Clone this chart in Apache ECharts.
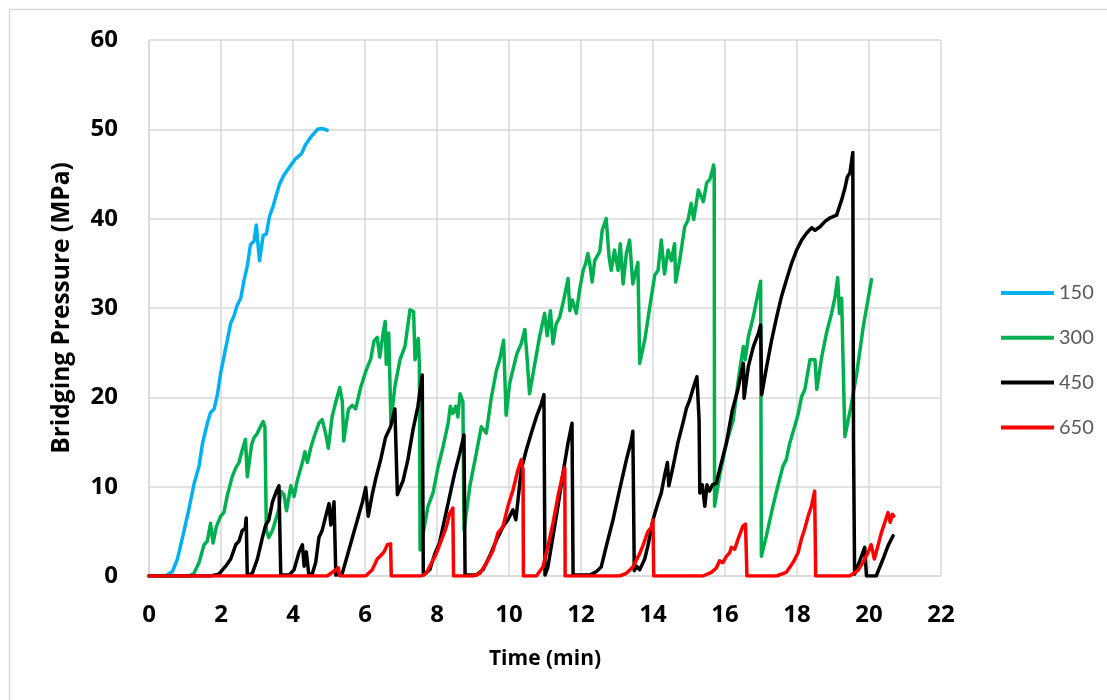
<!DOCTYPE html>
<html>
<head>
<meta charset="utf-8">
<script src="https://cdn.jsdelivr.net/npm/echarts@6/dist/echarts.min.js"></script>
<style>
  html, body { margin: 0; padding: 0; background: #fff; }
  #chart { width: 1107px; height: 700px; }
</style>
</head>
<body>
<div id="chart"></div>
<script>
// Bridging pressure vs. time for four test cases (legend 150 / 300 / 450 / 650)
const seriesNames = ['150', '300', '450', '650'];
const seriesColors = ['#00B0F0', '#00B050', '#000000', '#FF0000'];

const time150 = [0, 0.46, 0.65, 0.79, 0.93, 1.11, 1.25, 1.39, 1.48, 1.62, 1.71, 1.81, 1.90, 1.99, 2.13, 2.27, 2.36, 2.45, 2.55, 2.64, 2.73, 2.82, 2.92, 2.98, 3.07, 3.17, 3.26, 3.35, 3.44, 3.54, 3.63, 3.75, 3.89, 4.07, 4.24, 4.35, 4.49, 4.68, 4.81, 4.95];
const press150 = [0, 0, 0.5, 1.9, 4.3, 7.5, 10.3, 12.3, 14.7, 17.1, 18.3, 18.7, 20.3, 22.7, 25.5, 28.3, 29.1, 30.3, 31.1, 33.1, 34.7, 37.1, 37.5, 39.3, 35.3, 38.1, 38.3, 40.3, 41.3, 42.7, 43.9, 44.9, 45.7, 46.7, 47.3, 48.3, 49.1, 50.0, 50.1, 49.9];

const time300 = [0, 1.11, 1.25, 1.39, 1.53, 1.62, 1.71, 1.78, 1.87, 1.99, 2.08, 2.18, 2.31, 2.41, 2.50, 2.59, 2.68, 2.73, 2.85, 2.92, 3.00, 3.07, 3.17, 3.22, 3.26, 3.33, 3.43, 3.52, 3.61, 3.66, 3.75, 3.82, 3.94, 4.03, 4.12, 4.26, 4.33, 4.40, 4.49, 4.58, 4.72, 4.81, 4.91, 4.98, 5.09, 5.19, 5.30, 5.37, 5.41, 5.54, 5.65, 5.74, 5.88, 6.02, 6.16, 6.25, 6.34, 6.41, 6.50, 6.56, 6.59, 6.66, 6.72, 6.83, 6.97, 7.11, 7.25, 7.35, 7.39, 7.48, 7.51, 7.53, 7.75, 7.89, 8.03, 8.17, 8.31, 8.37, 8.44, 8.52, 8.58, 8.64, 8.72, 8.75, 8.91, 9.09, 9.23, 9.37, 9.51, 9.65, 9.74, 9.85, 9.92, 10.02, 10.11, 10.22, 10.34, 10.44, 10.50, 10.57, 10.71, 10.85, 10.99, 11.06, 11.15, 11.22, 11.31, 11.41, 11.52, 11.64, 11.69, 11.76, 11.87, 11.96, 12.06, 12.13, 12.19, 12.24, 12.31, 12.38, 12.52, 12.59, 12.70, 12.78, 12.84, 12.93, 13.03, 13.09, 13.17, 13.26, 13.35, 13.44, 13.58, 13.63, 13.77, 13.91, 14.05, 14.14, 14.23, 14.32, 14.42, 14.51, 14.60, 14.63, 14.74, 14.88, 14.97, 15.06, 15.13, 15.26, 15.40, 15.49, 15.58, 15.63, 15.68, 15.70, 15.71, 15.85, 16.04, 16.23, 16.37, 16.51, 16.56, 16.65, 16.79, 16.88, 16.99, 17.01, 17.15, 17.33, 17.47, 17.61, 17.70, 17.80, 17.94, 18.03, 18.13, 18.22, 18.36, 18.50, 18.55, 18.69, 18.82, 18.96, 19.06, 19.13, 19.18, 19.24, 19.29, 19.33, 19.50, 19.66, 19.84, 20.07];
const press300 = [0, 0, 0.3, 1.5, 3.5, 3.9, 5.9, 3.7, 5.5, 6.7, 7.1, 9.1, 11.1, 12.1, 12.7, 14.1, 15.3, 11.1, 14.7, 15.5, 15.9, 16.5, 17.3, 16.7, 5.1, 4.3, 5.1, 6.3, 7.5, 9.5, 9.1, 7.3, 10.1, 8.9, 10.7, 12.7, 13.9, 12.7, 14.3, 15.5, 17.1, 17.5, 15.9, 14.3, 17.9, 19.5, 21.1, 19.5, 15.1, 18.7, 19.1, 18.7, 21.1, 22.9, 24.3, 26.3, 26.7, 24.5, 27.1, 28.5, 23.7, 27.2, 17.2, 21.2, 24.2, 25.7, 29.8, 29.6, 24.2, 26.6, 23.8, 2.9, 7.8, 9.3, 12.2, 14.5, 17.1, 19.0, 18.2, 19.0, 17.8, 20.4, 19.5, 5.1, 10.0, 13.7, 16.7, 16.0, 20.0, 23.0, 24.2, 26.4, 18.0, 21.6, 23.1, 24.9, 26.0, 27.6, 24.5, 20.4, 23.6, 26.8, 29.4, 26.9, 29.7, 26.0, 28.2, 29.0, 30.9, 33.3, 29.7, 30.9, 29.4, 32.0, 34.2, 35.0, 36.1, 35.1, 32.9, 35.3, 36.3, 38.7, 40.0, 35.7, 34.2, 36.5, 34.2, 37.2, 32.7, 36.1, 37.6, 32.7, 35.1, 23.8, 26.4, 30.1, 33.7, 34.2, 37.6, 33.8, 36.5, 35.3, 37.2, 32.9, 35.3, 39.1, 39.8, 41.7, 39.9, 43.2, 41.9, 44.0, 44.4, 45.1, 46.0, 45.6, 7.8, 11.2, 14.9, 17.5, 22.0, 25.7, 24.2, 26.8, 29.1, 30.9, 33.0, 2.2, 4.5, 7.8, 10.1, 12.3, 13.0, 14.9, 16.8, 18.1, 20.1, 20.9, 24.2, 24.2, 20.9, 24.6, 27.2, 29.4, 31.3, 33.4, 29.4, 31.1, 22.3, 15.6, 19.0, 22.7, 27.9, 33.2];

const time450 = [0, 1.71, 1.94, 2.13, 2.27, 2.41, 2.50, 2.59, 2.67, 2.70, 2.73, 2.87, 3.01, 3.15, 3.24, 3.33, 3.43, 3.54, 3.61, 3.66, 3.89, 4.03, 4.17, 4.26, 4.31, 4.37, 4.44, 4.54, 4.63, 4.72, 4.81, 4.91, 5.00, 5.05, 5.14, 5.19, 5.37, 5.51, 5.65, 5.79, 5.93, 6.02, 6.09, 6.20, 6.31, 6.44, 6.57, 6.71, 6.83, 6.90, 7.06, 7.19, 7.33, 7.47, 7.59, 7.62, 7.80, 7.94, 8.07, 8.21, 8.35, 8.49, 8.63, 8.75, 8.78, 9.09, 9.28, 9.46, 9.65, 9.83, 9.97, 10.11, 10.19, 10.25, 10.34, 10.48, 10.62, 10.76, 10.90, 10.97, 11.00, 11.08, 11.22, 11.36, 11.50, 11.64, 11.75, 11.78, 12.24, 12.43, 12.56, 12.70, 12.89, 13.07, 13.26, 13.40, 13.44, 13.48, 13.54, 13.63, 13.77, 13.86, 14.00, 14.14, 14.23, 14.32, 14.40, 14.44, 14.56, 14.69, 14.83, 14.93, 15.02, 15.13, 15.22, 15.28, 15.30, 15.37, 15.44, 15.50, 15.57, 15.65, 15.76, 15.85, 16.04, 16.20, 16.36, 16.45, 16.51, 16.53, 16.65, 16.79, 16.93, 16.99, 17.02, 17.16, 17.30, 17.44, 17.57, 17.71, 17.85, 17.99, 18.13, 18.27, 18.41, 18.50, 18.64, 18.78, 18.92, 19.10, 19.24, 19.33, 19.40, 19.47, 19.55, 19.57, 19.60, 19.65, 19.79, 19.88, 19.93, 20.20, 20.39, 20.53, 20.67];
const press450 = [0, 0, 0.2, 1.1, 1.9, 3.5, 3.9, 5.1, 5.3, 6.5, 0.1, 0.3, 1.9, 4.3, 5.7, 6.3, 8.3, 9.5, 10.1, 0.1, 0.1, 0.7, 2.7, 3.5, 1.1, 2.7, 0.1, 0.3, 1.5, 4.3, 5.1, 6.7, 8.1, 5.7, 8.3, 0.1, 0.3, 2.3, 4.3, 6.3, 8.3, 9.9, 6.7, 9.1, 11.1, 13.1, 15.5, 16.7, 18.7, 9.1, 10.7, 13.0, 16.3, 19.0, 22.5, 0.1, 0.7, 2.5, 3.7, 6.3, 8.9, 11.5, 13.7, 15.8, 0.1, 0.1, 0.7, 2.2, 4.0, 5.5, 6.3, 7.4, 6.3, 8.5, 11.9, 14.1, 16.0, 17.8, 19.3, 20.3, 0.1, 1.0, 4.4, 7.8, 11.5, 14.9, 17.1, 0.1, 0.1, 0.5, 1.0, 3.3, 6.3, 9.6, 13.0, 15.2, 16.2, 0.6, 1.1, 0.7, 1.9, 3.4, 6.3, 8.2, 9.3, 11.2, 12.7, 10.1, 12.3, 14.9, 17.1, 18.8, 19.7, 21.2, 22.3, 17.5, 9.3, 10.2, 7.8, 10.2, 9.5, 10.2, 10.4, 11.9, 14.9, 18.5, 20.9, 22.7, 23.8, 19.9, 23.5, 25.7, 27.2, 28.1, 20.3, 23.5, 26.5, 29.1, 31.3, 33.2, 35.0, 36.5, 37.6, 38.4, 39.0, 38.7, 39.1, 39.7, 40.1, 40.4, 42.1, 43.4, 44.7, 45.1, 47.4, 15.0, 0.2, 0.4, 2.2, 3.2, 0, 0, 1.9, 3.4, 4.5];

const time650 = [0, 4.95, 5.19, 5.26, 5.30, 6.02, 6.20, 6.34, 6.44, 6.53, 6.62, 6.71, 6.73, 7.56, 7.70, 7.84, 7.98, 8.12, 8.26, 8.35, 8.44, 8.46, 9.00, 9.19, 9.37, 9.56, 9.69, 9.83, 9.97, 10.11, 10.25, 10.34, 10.39, 10.40, 10.76, 10.94, 11.08, 11.22, 11.36, 11.50, 11.55, 11.56, 13.07, 13.26, 13.44, 13.63, 13.72, 13.86, 13.95, 14.00, 14.02, 15.39, 15.62, 15.76, 15.85, 15.94, 16.04, 16.13, 16.18, 16.27, 16.36, 16.50, 16.57, 16.61, 17.43, 17.70, 17.89, 18.03, 18.12, 18.21, 18.31, 18.40, 18.49, 18.52, 19.46, 19.69, 19.83, 19.97, 20.06, 20.15, 20.25, 20.34, 20.44, 20.53, 20.59, 20.65, 20.69];
const press650 = [0, 0, 0.7, 0.9, 0, 0, 0.7, 1.9, 2.3, 2.7, 3.5, 3.6, 0, 0, 0.3, 1.4, 2.5, 4.0, 5.5, 7.0, 7.6, 0, 0, 0.3, 1.4, 2.9, 4.8, 5.5, 7.8, 9.6, 11.9, 13.0, 11.9, 0, 0, 1.0, 3.3, 5.9, 8.9, 11.5, 12.1, 0, 0, 0.3, 1.0, 2.5, 3.4, 5.0, 5.4, 6.3, 0, 0, 0.4, 0.9, 1.7, 1.5, 2.2, 2.6, 3.2, 3.0, 4.1, 5.6, 5.8, 0, 0, 0.4, 1.5, 2.6, 4.1, 5.2, 6.7, 7.8, 9.5, 0, 0, 0.6, 1.5, 2.6, 3.5, 1.9, 3.4, 4.8, 6.0, 7.1, 6.0, 6.9, 6.7];

const xTicks = [0, 22, 2];   // min, max, step (min)
const yTicks = [0, 60, 10];  // min, max, step (MPa)

const timeSets = [time150, time300, time450, time650];
const pressSets = [press150, press300, press450, press650];

const AXIS_FONT = '"Open Sans", Lato, sans-serif';
const LEGEND_FONT = 'Lato, "Open Sans", sans-serif';

const series = seriesNames.map((name, i) => ({
  name: name,
  type: 'line',
  data: timeSets[i].map((t, k) => [t, pressSets[i][k]]),
  showSymbol: false,
  symbol: 'none',
  smooth: false,
  lineStyle: { color: seriesColors[i], width: 3.5, join: 'round', cap: 'round' },
  itemStyle: { color: seriesColors[i] },
  z: 2 + i,
  animation: false
}));

const chart = echarts.init(document.getElementById('chart'), null, { renderer: 'canvas' });
chart.setOption({
  backgroundColor: '#ffffff',
  animation: false,
  graphic: [{
    type: 'rect',
    left: 7, top: 7,
    shape: { width: 1200, height: 800 },
    style: { fill: 'none', stroke: '#D9D9D9', lineWidth: 1.5 },
    silent: true, z: -1
  }],
  grid: { left: 149, right: 166, top: 40, bottom: 124, containLabel: false },
  legend: {
    orient: 'vertical',
    left: 996,
    top: 278,
    itemWidth: 53,
    itemHeight: 20,
    itemGap: 24.8,
    icon: 'path://M0,8 L53,8 L53,12 L0,12 Z',
    textStyle: { fontFamily: LEGEND_FONT, fontSize: 20, color: '#595959', lineHeight: 20 },
    data: seriesNames.map((n, i) => ({ name: n, itemStyle: { color: seriesColors[i] } }))
  },
  xAxis: {
    type: 'value',
    min: xTicks[0], max: xTicks[1], interval: xTicks[2],
    name: 'Time (min)',
    nameLocation: 'middle',
    nameGap: 73,
    nameTextStyle: { fontFamily: AXIS_FONT, fontSize: 21, fontWeight: 'bold', color: '#000' },
    axisLine: { show: true, lineStyle: { color: '#D9D9D9', width: 1.5 } },
    axisTick: { show: false },
    axisLabel: { fontFamily: AXIS_FONT, fontSize: 24, fontWeight: 'bold', color: '#000', margin: 27 },
    splitLine: { show: true, lineStyle: { color: '#D9D9D9', width: 1.5 } }
  },
  yAxis: {
    type: 'value',
    min: yTicks[0], max: yTicks[1], interval: yTicks[2],
    name: 'Bridging Pressure (MPa)',
    nameLocation: 'middle',
    nameRotate: 90,
    nameGap: 74,
    nameTextStyle: { fontFamily: AXIS_FONT, fontSize: 24.5, fontWeight: 'bold', color: '#000' },
    axisLine: { show: true, lineStyle: { color: '#D9D9D9', width: 1.5 } },
    axisTick: { show: false },
    axisLabel: { fontFamily: AXIS_FONT, fontSize: 24, fontWeight: 'bold', color: '#000', margin: 31 },
    splitLine: { show: true, lineStyle: { color: '#D9D9D9', width: 1.5 } }
  },
  series: series
});
</script>
</body>
</html>
